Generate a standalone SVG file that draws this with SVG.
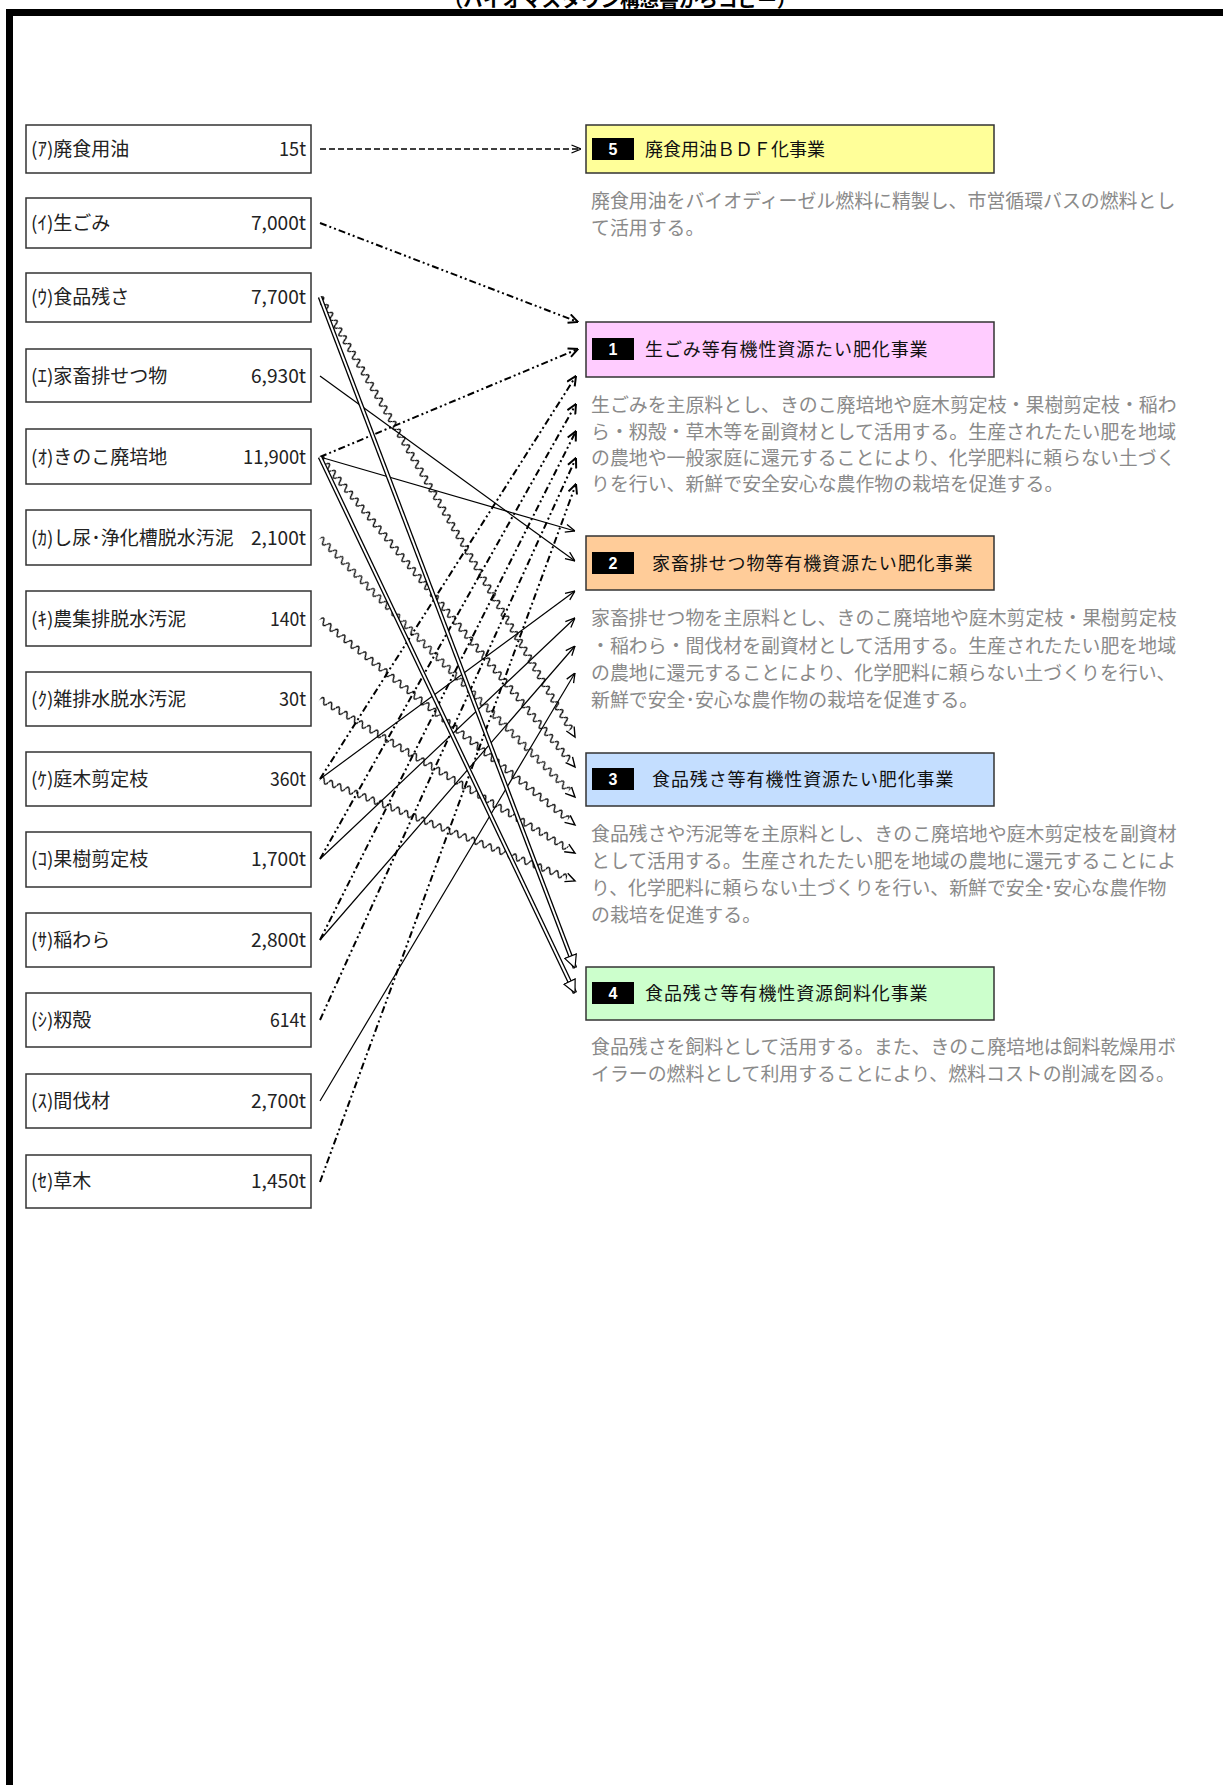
<svg xmlns="http://www.w3.org/2000/svg" width="1223" height="1785" viewBox="0 0 1223 1785">
<style>
  text { font-family: "Noto Sans CJK JP", "Noto Sans", sans-serif; }
  .src rect { fill: #fff; stroke: #333; stroke-width: 1.5; }
  .lbl { font-size: 19px; fill: #222; }
  .val { font-size: 19px; fill: #222; text-anchor: end; }
  .prj rect.box { stroke: #333; stroke-width: 1.5; }
  .badge { fill: #000; }
  .num { font-family: "Liberation Sans", Arial, sans-serif; font-weight: bold; font-size: 16px; fill: #fff; text-anchor: middle; }
  .ttl { font-size: 18px; fill: #111; letter-spacing: 0.9px; }
  .desc { font-size: 18.9px; fill: #8a8a8a; }
  .dash { stroke: #000; stroke-width: 1.3; fill: none; stroke-dasharray: 6 3; }
  .dd { stroke: #000; stroke-width: 2; fill: none; stroke-dasharray: 7 3 2 3 2 3; }
  .sol { stroke: #000; stroke-width: 1.2; fill: none; }
  .dblo { stroke: #000; stroke-width: 4.6; fill: none; }
  .dbli { stroke: #fff; stroke-width: 2; fill: none; }
  .ah { fill: none; stroke: #000; stroke-width: 1.4; }
</style>
<defs>
  <marker id="arr" viewBox="0 0 10 10" refX="10" refY="5" markerWidth="10" markerHeight="10" markerUnits="userSpaceOnUse" orient="auto">
    <path d="M0.5,1 L10,5 L0.5,9" fill="none" stroke="#000" stroke-width="1.3"/>
  </marker>
  <marker id="arrB" viewBox="0 0 11 11" refX="10.5" refY="5.5" markerWidth="11" markerHeight="11" markerUnits="userSpaceOnUse" orient="auto">
    <path d="M1,1 L10.5,5.5 L1,10" fill="none" stroke="#000" stroke-width="2"/>
  </marker>
  <marker id="arrD" viewBox="0 0 14 14" refX="13.5" refY="7" markerWidth="14" markerHeight="14" markerUnits="userSpaceOnUse" orient="auto">
    <path d="M0.8,0.8 L13.5,7 L0.8,13.2 Z" fill="#fff" stroke="#000" stroke-width="1.2"/>
  </marker>
  <pattern id="wave" x="0" y="-4.5" width="9" height="9" patternUnits="userSpaceOnUse">
    <path d="M0,4.5 Q2.25,-1.2 4.5,4.5 T9,4.5" fill="none" stroke="#000" stroke-width="1.3"/>
  </pattern>
</defs>

<rect width="1223" height="1785" fill="#fff"/>
<text x="620" y="7" font-size="19.6" font-weight="bold" fill="#000" text-anchor="middle">（バイオマスタウン構想書からコピー）</text>
<rect x="6" y="9" width="1217" height="7" fill="#000"/>
<rect x="6" y="9" width="7" height="1776" fill="#000"/>

<g id="sources" class="src">
  <g id="src-a"><rect x="26" y="125" width="285" height="48"/><text class="lbl" x="31" y="156">(ｱ)廃食用油</text><text class="val" x="306" y="156" textLength="27" lengthAdjust="spacingAndGlyphs">15t</text></g>
  <g id="src-i"><rect x="26" y="198" width="285" height="50"/><text class="lbl" x="31" y="230">(ｲ)生ごみ</text><text class="val" x="306" y="230" textLength="55" lengthAdjust="spacingAndGlyphs">7,000t</text></g>
  <g id="src-u"><rect x="26" y="273" width="285" height="49"/><text class="lbl" x="31" y="304">(ｳ)食品残さ</text><text class="val" x="306" y="304" textLength="55" lengthAdjust="spacingAndGlyphs">7,700t</text></g>
  <g id="src-e"><rect x="26" y="349" width="285" height="53"/><text class="lbl" x="31" y="383">(ｴ)家畜排せつ物</text><text class="val" x="306" y="383" textLength="55" lengthAdjust="spacingAndGlyphs">6,930t</text></g>
  <g id="src-o"><rect x="26" y="429" width="285" height="55"/><text class="lbl" x="31" y="464">(ｵ)きのこ廃培地</text><text class="val" x="306" y="464" textLength="63" lengthAdjust="spacingAndGlyphs">11,900t</text></g>
  <g id="src-ka"><rect x="26" y="510" width="285" height="55"/><text class="lbl" x="31" y="545">(ｶ)し尿･浄化槽脱水汚泥</text><text class="val" x="306" y="545" textLength="55" lengthAdjust="spacingAndGlyphs">2,100t</text></g>
  <g id="src-ki"><rect x="26" y="591" width="285" height="55"/><text class="lbl" x="31" y="626">(ｷ)農集排脱水汚泥</text><text class="val" x="306" y="626" textLength="36" lengthAdjust="spacingAndGlyphs">140t</text></g>
  <g id="src-ku"><rect x="26" y="672" width="285" height="54"/><text class="lbl" x="31" y="706">(ｸ)雑排水脱水汚泥</text><text class="val" x="306" y="706" textLength="27" lengthAdjust="spacingAndGlyphs">30t</text></g>
  <g id="src-ke"><rect x="26" y="752" width="285" height="54"/><text class="lbl" x="31" y="786">(ｹ)庭木剪定枝</text><text class="val" x="306" y="786" textLength="36" lengthAdjust="spacingAndGlyphs">360t</text></g>
  <g id="src-ko"><rect x="26" y="832" width="285" height="55"/><text class="lbl" x="31" y="866">(ｺ)果樹剪定枝</text><text class="val" x="306" y="866" textLength="55" lengthAdjust="spacingAndGlyphs">1,700t</text></g>
  <g id="src-sa"><rect x="26" y="913" width="285" height="54"/><text class="lbl" x="31" y="947">(ｻ)稲わら</text><text class="val" x="306" y="947" textLength="55" lengthAdjust="spacingAndGlyphs">2,800t</text></g>
  <g id="src-si"><rect x="26" y="993" width="285" height="54"/><text class="lbl" x="31" y="1027">(ｼ)籾殻</text><text class="val" x="306" y="1027" textLength="36" lengthAdjust="spacingAndGlyphs">614t</text></g>
  <g id="src-su"><rect x="26" y="1074" width="285" height="54"/><text class="lbl" x="31" y="1108">(ｽ)間伐材</text><text class="val" x="306" y="1108" textLength="55" lengthAdjust="spacingAndGlyphs">2,700t</text></g>
  <g id="src-se"><rect x="26" y="1155" width="285" height="53"/><text class="lbl" x="31" y="1188">(ｾ)草木</text><text class="val" x="306" y="1188" textLength="55" lengthAdjust="spacingAndGlyphs">1,450t</text></g>
</g>

<g id="projects" class="prj">
  <g id="prj-5">
    <rect class="box" x="586" y="125" width="408" height="48" fill="#FFFF99"/>
    <rect class="badge" x="592" y="138" width="42" height="22"/>
    <text class="num" x="613" y="155">5</text>
    <text class="ttl" x="645" y="156" style="letter-spacing:0">廃食用油ＢＤＦ化事業</text>
    <text class="desc" x="591" y="208">廃食用油をバイオディーゼル燃料に精製し、市営循環バスの燃料とし</text>
    <text class="desc" x="591" y="235">て活用する。</text>
  </g>
  <g id="prj-1">
    <rect class="box" x="586" y="322" width="408" height="55" fill="#FFCCFF"/>
    <rect class="badge" x="592" y="338" width="42" height="22"/>
    <text class="num" x="613" y="355">1</text>
    <text class="ttl" x="645" y="356">生ごみ等有機性資源たい肥化事業</text>
    <text class="desc" x="591" y="412">生ごみを主原料とし、きのこ廃培地や庭木剪定枝・果樹剪定枝・稲わ</text>
    <text class="desc" x="591" y="439">ら・籾殻・草木等を副資材として活用する。生産されたたい肥を地域</text>
    <text class="desc" x="591" y="465">の農地や一般家庭に還元することにより、化学肥料に頼らない土づく</text>
    <text class="desc" x="591" y="491">りを行い、新鮮で安全安心な農作物の栽培を促進する。</text>
  </g>
  <g id="prj-2">
    <rect class="box" x="586" y="536" width="408" height="54" fill="#FFCC99"/>
    <rect class="badge" x="592" y="552" width="42" height="22"/>
    <text class="num" x="613" y="569">2</text>
    <text class="ttl" x="652" y="570">家畜排せつ物等有機資源たい肥化事業</text>
    <text class="desc" x="591" y="625">家畜排せつ物を主原料とし、きのこ廃培地や庭木剪定枝・果樹剪定枝</text>
    <text class="desc" x="591" y="653">・稲わら・間伐材を副資材として活用する。生産されたたい肥を地域</text>
    <text class="desc" x="591" y="680">の農地に還元することにより、化学肥料に頼らない土づくりを行い、</text>
    <text class="desc" x="591" y="707">新鮮で安全･安心な農作物の栽培を促進する。</text>
  </g>
  <g id="prj-3">
    <rect class="box" x="586" y="753" width="408" height="53" fill="#C4DEFF"/>
    <rect class="badge" x="592" y="768" width="42" height="22"/>
    <text class="num" x="613" y="785">3</text>
    <text class="ttl" x="652" y="786">食品残さ等有機性資源たい肥化事業</text>
    <text class="desc" x="591" y="841">食品残さや汚泥等を主原料とし、きのこ廃培地や庭木剪定枝を副資材</text>
    <text class="desc" x="591" y="868">として活用する。生産されたたい肥を地域の農地に還元することによ</text>
    <text class="desc" x="591" y="895">り、化学肥料に頼らない土づくりを行い、新鮮で安全･安心な農作物</text>
    <text class="desc" x="591" y="922">の栽培を促進する。</text>
  </g>
  <g id="prj-4">
    <rect class="box" x="586" y="967" width="408" height="53" fill="#CCFFCC"/>
    <rect class="badge" x="592" y="982" width="42" height="22"/>
    <text class="num" x="613" y="999">4</text>
    <text class="ttl" x="645" y="1000">食品残さ等有機性資源飼料化事業</text>
    <text class="desc" x="591" y="1054">食品残さを飼料として活用する。また、きのこ廃培地は飼料乾燥用ボ</text>
    <text class="desc" x="591" y="1081">イラーの燃料として利用することにより、燃料コストの削減を図る。</text>
  </g>
</g>

<g id="connectors">
  <!-- dashed: to 5 -->
  <line class="dash" x1="320" y1="149" x2="581" y2="149" marker-end="url(#arr)"/>
  <!-- dash-dot-dot: to 1 -->
  <line class="dd" x1="320" y1="223" x2="578" y2="322" marker-end="url(#arrB)"/>
  <line class="dd" x1="320" y1="457" x2="578" y2="349" marker-end="url(#arrB)"/>
  <line class="dd" x1="320" y1="779" x2="576" y2="376" marker-end="url(#arrB)"/>
  <line class="dd" x1="320" y1="859" x2="576" y2="404" marker-end="url(#arrB)"/>
  <line class="dd" x1="320" y1="940" x2="576" y2="431" marker-end="url(#arrB)"/>
  <line class="dd" x1="320" y1="1020" x2="576" y2="458" marker-end="url(#arrB)"/>
  <line class="dd" x1="320" y1="1182" x2="576" y2="484" marker-end="url(#arrB)"/>
  <!-- solid: to 2 -->
  <line class="sol" x1="320" y1="376" x2="575" y2="561" marker-end="url(#arr)"/>
  <line class="sol" x1="320" y1="457" x2="575" y2="531" marker-end="url(#arr)"/>
  <line class="sol" x1="320" y1="779" x2="575" y2="591" marker-end="url(#arr)"/>
  <line class="sol" x1="320" y1="859" x2="575" y2="618" marker-end="url(#arr)"/>
  <line class="sol" x1="320" y1="940" x2="575" y2="646" marker-end="url(#arr)"/>
  <line class="sol" x1="320" y1="1101" x2="575" y2="673" marker-end="url(#arr)"/>
  <!-- wavy: to 3 -->
  <g transform="matrix(0.5015 0.8653 -0.8653 0.5015 320 297)"><rect x="0" y="-4.5" width="500" height="9" fill="url(#wave)"/><path class="ah" d="M499,-4.5 L508.5,0 L499,4.5"/></g>
  <g transform="matrix(0.6353 0.7723 -0.7723 0.6353 320 457)"><rect x="0" y="-4.5" width="393" height="9" fill="url(#wave)"/><path class="ah" d="M392,-4.5 L401.4,0 L392,4.5"/></g>
  <g transform="matrix(0.7015 0.7125 -0.7125 0.7015 320 538)"><rect x="0" y="-4.5" width="355" height="9" fill="url(#wave)"/><path class="ah" d="M354,-4.5 L363.5,0 L354,4.5"/></g>
  <g transform="matrix(0.7779 0.6284 -0.6284 0.7779 320 619)"><rect x="0" y="-4.5" width="319" height="9" fill="url(#wave)"/><path class="ah" d="M318,-4.5 L327.8,0 L318,4.5"/></g>
  <g transform="matrix(0.8560 0.5170 -0.5170 0.8560 320 699)"><rect x="0" y="-4.5" width="289" height="9" fill="url(#wave)"/><path class="ah" d="M288,-4.5 L297.9,0 L288,4.5"/></g>
  <g transform="matrix(0.9286 0.3714 -0.3714 0.9286 320 779)"><rect x="0" y="-4.5" width="266" height="9" fill="url(#wave)"/><path class="ah" d="M265,-4.5 L274.6,0 L265,4.5"/></g>
  <!-- double: to 4 -->
  <line class="dblo" x1="320" y1="297" x2="575" y2="968"/>
  <line class="dbli" x1="320" y1="297" x2="575" y2="968" marker-end="url(#arrD)"/>
  <line class="dblo" x1="320" y1="457" x2="575" y2="993"/>
  <line class="dbli" x1="320" y1="457" x2="575" y2="993" marker-end="url(#arrD)"/>
</g>
</svg>
